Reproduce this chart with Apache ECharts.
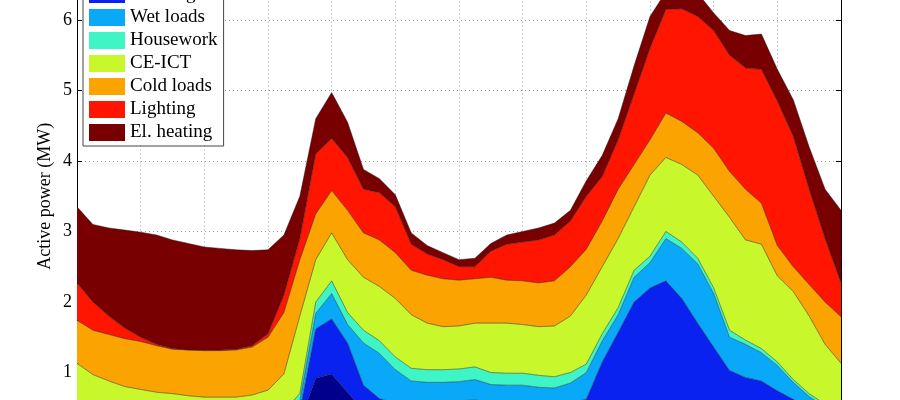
<!DOCTYPE html>
<html>
<head>
<meta charset="utf-8">
<script src="https://cdn.jsdelivr.net/npm/echarts@6/dist/echarts.min.js"></script>
<style>html,body{margin:0;padding:0;background:#fff}#c{width:900px;height:400px}</style>
</head>
<body>
<div id="c"></div>
<script>
// hour of day (x axis categories)
const hours = [0,0.5,1,1.5,2,2.5,3,3.5,4,4.5,5,5.5,6,6.5,7,7.5,8,8.5,9,9.5,10,10.5,11,11.5,12,12.5,13,13.5,14,14.5,15,15.5,16,16.5,17,17.5,18,18.5,19,19.5,20,20.5,21,21.5,22,22.5,23,23.5,24];
const yTicks = [0,1,2,3,4,5,6,7];
const categories = ["Hot water","Cooking","Wet loads","Housework","CE-ICT","Cold loads","Lighting","El. heating"];

// layer values, MW (stacked from the bottom)
const hotWater = [.12,.09,.08,.07,.07,.07,.07,.07,.07,.07,.08,.09,.12,.18,.30,.92,.98,.72,.45,.32,.25,.23,.22,.22,.23,.23,.22,.21,.21,.21,.21,.22,.24,.30,.34,.36,.38,.38,.37,.36,.34,.32,.30,.28,.25,.22,.18,.15,.12];
const cooking = [.10,.08,.06,.05,.04,.03,.03,.03,.03,.03,.03,.04,.06,.09,.15,.70,.78,.70,.37,.31,.31,.32,.34,.35,.37,.38,.36,.36,.35,.34,.34,.35,.38,.85,1.23,1.64,1.82,1.92,1.68,1.34,1.02,.71,.63,.60,.49,.40,.32,.25,.11];
const wetLoads = [.16,.16,.15,.14,.13,.13,.12,.12,.12,.12,.12,.12,.13,.13,.15,.22,.36,.26,.60,.64,.48,.33,.30,.29,.27,.29,.25,.25,.26,.24,.23,.28,.38,.30,.25,.35,.36,.60,.71,.84,.76,.47,.47,.40,.36,.24,.16,.11,.17];
const housework = [.04,.03,.03,.03,.03,.03,.03,.03,.03,.03,.03,.04,.04,.05,.10,.16,.18,.17,.18,.18,.18,.18,.18,.18,.18,.18,.17,.17,.17,.17,.16,.15,.12,.10,.10,.10,.09,.10,.09,.08,.08,.10,.06,.06,.05,.04,.04,.04,.04];
const ceIct = [.71,.61,.56,.51,.49,.46,.45,.42,.40,.40,.39,.39,.40,.53,1.10,.60,.68,.75,.75,.77,.83,.76,.66,.61,.61,.62,.70,.71,.69,.69,.72,.80,.98,.95,.98,.90,1.15,1.05,1.10,1.18,1.30,1.60,1.42,1.48,1.22,1.25,1.10,.85,.69];
const coldLoads = [.61,.63,.66,.68,.68,.66,.63,.65,.66,.66,.67,.68,.75,.87,.80,.65,.60,.70,.63,.66,.65,.63,.68,.68,.65,.63,.65,.61,.62,.62,.64,.70,.65,.65,.70,.60,.50,.63,.61,.60,.68,.65,.72,.58,.43,.35,.45,.60,.66];
const lighting = [.53,.40,.26,.15,.06,.02,.01,0,.01,.01,.01,.02,.05,.25,.30,.85,.74,.75,.62,.67,.65,.37,.30,.27,.19,.17,.37,.51,.55,.61,.65,.65,.75,.63,.70,1.00,1.30,1.47,1.60,1.65,1.67,1.65,1.72,1.90,2.05,1.85,1.35,.90,.48];
const elHeating = [1.08,1.10,1.25,1.39,1.49,1.55,1.54,1.51,1.46,1.44,1.41,1.35,1.19,.85,.60,.50,.65,.50,.28,.20,.17,.16,.12,.10,.10,.12,.11,.13,.15,.17,.17,.15,.22,.30,.30,.40,.45,.25,.29,.33,.25,.35,.46,.50,.45,.52,.60,.70,1.03];

const layers = [hotWater, cooking, wetLoads, housework, ceIct, coldLoads, lighting, elHeating];
const colors = ['#00008C','#0a22f0','#0aa8f8','#40f5c5','#c8f82c','#fba300','#ff1500','#780000'];

const FONT = 'Liberation Serif';
const chart = echarts.init(document.getElementById('c'));
chart.setOption({
  animation: false,
  backgroundColor: '#fff',
  grid: { left: 77, right: 59, top: -50.5, bottom: -43, containLabel: false, outerBoundsMode: 'none' },
  legend: {
    orient: 'vertical', left: 83, top: -43,
    padding: [5, 6, 4, 6],
    backgroundColor: '#fff', borderColor: '#444', borderWidth: 1,
    itemWidth: 36, itemHeight: 17, itemGap: 4,
    icon: 'rect',
    textStyle: { fontFamily: FONT, fontSize: 19, color: '#000' },
    data: categories
  },
  xAxis: [{
    type: 'category', boundaryGap: false,
    data: hours.map(String),
    axisLine: { show: true, lineStyle: { color: '#000' } },
    axisTick: { inside: true, length: 5, interval: 3, lineStyle: { color: '#000' } },
    axisLabel: { fontFamily: FONT, fontSize: 18, color: '#000', interval: 3 },
    splitLine: { show: true, interval: 3, lineStyle: { color: '#9a9a9a', type: [1, 3], width: 1 } }
  }],
  yAxis: [{
    type: 'value', min: 0, max: 7, interval: 1,
    name: 'Active power (MW)', nameLocation: 'middle', nameGap: 23, nameMoveOverlap: false,
    nameTextStyle: { fontFamily: FONT, fontSize: 18, color: '#000' },
    axisLine: { show: true, lineStyle: { color: '#000' } },
    axisTick: { show: true, inside: true, length: 5, lineStyle: { color: '#000' } },
    axisLabel: { fontFamily: FONT, fontSize: 18, color: '#000', margin: 5,
      formatter: v => yTicks.indexOf(v) >= 0 ? String(v) : '' },
    splitLine: { show: true, lineStyle: { color: '#9a9a9a', type: [1, 3], width: 1 } }
  }, {
    type: 'value', min: 0, max: 7, interval: 1, position: 'right',
    axisLine: { show: true, lineStyle: { color: '#000' } },
    axisTick: { show: true, inside: true, length: 5, lineStyle: { color: '#000' } },
    axisLabel: { show: false }, splitLine: { show: false }
  }],
  series: layers.map((arr, k) => ({
    name: categories[k], type: 'line', stack: 'total',
    yAxisIndex: 0,
    symbol: 'none', smooth: false,
    color: colors[k],
    lineStyle: { color: '#1a1a1a', width: 0.6, opacity: 0.8 },
    areaStyle: { color: colors[k], opacity: 1 },
    data: arr
  }))
});
</script>
</body>
</html>
